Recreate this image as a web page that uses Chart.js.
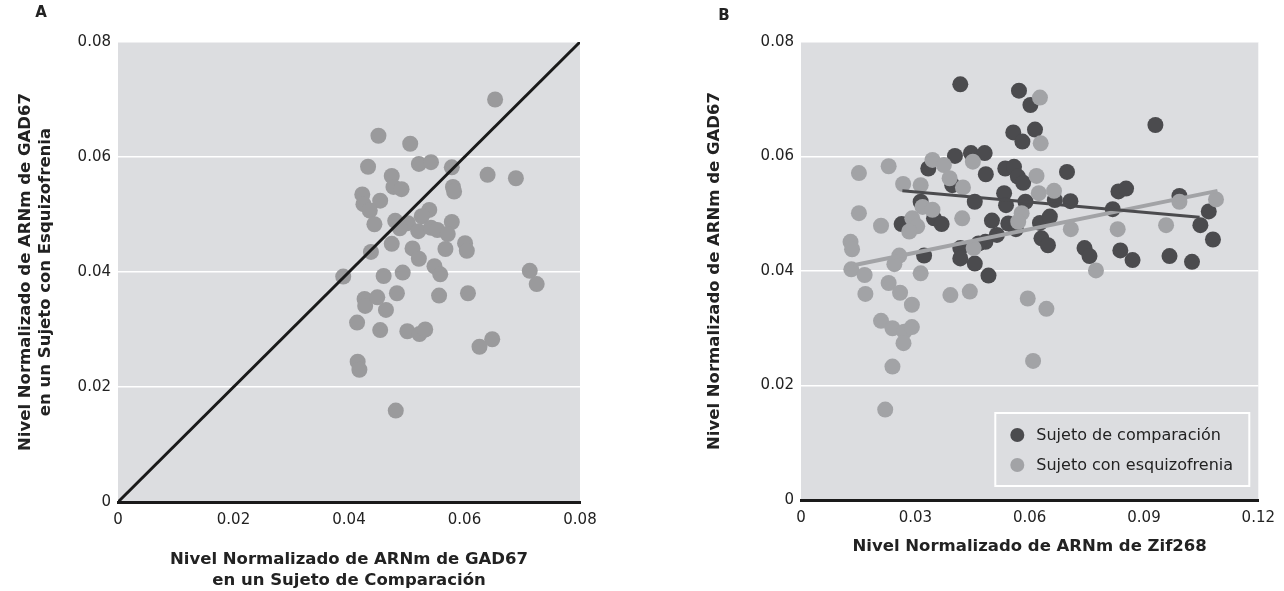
<!DOCTYPE html>
<html>
<head>
<meta charset="utf-8">
<script src="https://cdn.jsdelivr.net/npm/chart.js"></script>
<style>
  html, body { margin: 0; padding: 0; background: #fff; }
  #wrap { position: relative; width: 1284px; height: 591px; }
  canvas { position: absolute; top: 0; }
  #chartA { left: 0; width: 660px; height: 591px; }
  #chartB { left: 660px; width: 624px; height: 591px; }
</style>
</head>
<body>
<div id="wrap">
  <canvas id="chartA" width="660" height="591"></canvas>
  <canvas id="chartB" width="624" height="591"></canvas>
</div>
<script>
// panel A: GAD67 comparison subject (x) vs schizophrenia subject (y)
const aComparison = [0.0653,0.0451,0.0506,0.0433,0.0521,0.0542,0.0578,0.0474,0.0640,0.0689,
  0.0477,0.0491,0.0580,0.0582,0.0423,0.0425,0.0454,0.0436,0.0539,0.0526,
  0.0480,0.0502,0.0578,0.0444,0.0488,0.0520,0.0542,0.0553,0.0571,0.0474,
  0.0601,0.0604,0.0438,0.0510,0.0567,0.0521,0.0548,0.0558,0.0493,0.0390,
  0.0460,0.0713,0.0725,0.0483,0.0556,0.0606,0.0427,0.0428,0.0449,0.0464,
  0.0414,0.0454,0.0501,0.0522,0.0532,0.0626,0.0648,0.0415,0.0418,0.0481];
const aSchizo = [0.0700,0.0637,0.0623,0.0583,0.0588,0.0591,0.0582,0.0567,0.0569,0.0563,
  0.0548,0.0544,0.0548,0.0540,0.0535,0.0518,0.0524,0.0507,0.0508,0.0497,
  0.0489,0.0485,0.0487,0.0483,0.0476,0.0471,0.0477,0.0473,0.0466,0.0449,
  0.0450,0.0437,0.0435,0.0441,0.0440,0.0423,0.0410,0.0396,0.0399,0.0392,
  0.0393,0.0402,0.0379,0.0363,0.0359,0.0363,0.0353,0.0341,0.0356,0.0334,
  0.0312,0.0299,0.0297,0.0292,0.0300,0.0270,0.0283,0.0244,0.0230,0.0159];
const identityLine = [0, 0.08];

// panel B: Zif268 (x) vs GAD67 (y)
const bCompZif = [0.0418,0.0572,0.0602,0.0557,0.0581,0.0614,0.0930,0.0404,0.0446,0.0482,
  0.0334,0.0485,0.0536,0.0559,0.0569,0.0583,0.0698,0.0397,0.0314,0.0456,
  0.0533,0.0538,0.0589,0.0666,0.0707,0.0833,0.0853,0.0818,0.0993,0.1070,
  0.1048,0.1081,0.0264,0.0349,0.0369,0.0501,0.0544,0.0564,0.0627,0.0653,
  0.0631,0.0648,0.0514,0.0484,0.0466,0.0418,0.0418,0.0456,0.0323,0.0744,
  0.0757,0.0838,0.0870,0.0967,0.1026,0.0492];
const bCompGad = [0.0726,0.0715,0.0690,0.0642,0.0626,0.0647,0.0655,0.0601,0.0606,0.0606,
  0.0579,0.0569,0.0579,0.0582,0.0565,0.0554,0.0573,0.0550,0.0521,0.0521,
  0.0536,0.0515,0.0521,0.0524,0.0522,0.0539,0.0544,0.0508,0.0531,0.0504,
  0.0480,0.0455,0.0482,0.0492,0.0482,0.0488,0.0483,0.0473,0.0484,0.0495,
  0.0457,0.0445,0.0463,0.0451,0.0448,0.0440,0.0422,0.0413,0.0427,0.0440,
  0.0426,0.0436,0.0419,0.0426,0.0416,0.0392];
const bSchizoZif = [0.0627,0.0629,0.0152,0.0230,0.0345,0.0375,0.0390,0.0451,0.0618,0.0268,
  0.0314,0.0425,0.0624,0.0664,0.0152,0.0319,0.0345,0.0292,0.0423,0.0579,
  0.0570,0.0210,0.0305,0.0284,0.0708,0.0831,0.0958,0.0993,0.1089,0.0130,
  0.0134,0.0258,0.0453,0.0245,0.0132,0.0167,0.0314,0.0774,0.0169,0.0230,
  0.0260,0.0291,0.0392,0.0443,0.0595,0.0644,0.0210,0.0240,0.0271,0.0291,
  0.0269,0.0240,0.0609,0.0221];
const bSchizoGad = [0.0703,0.0623,0.0571,0.0583,0.0594,0.0585,0.0562,0.0591,0.0566,0.0552,
  0.0550,0.0546,0.0536,0.0540,0.0501,0.0512,0.0507,0.0492,0.0492,0.0501,
  0.0486,0.0479,0.0478,0.0469,0.0473,0.0473,0.0480,0.0521,0.0525,0.0451,
  0.0438,0.0427,0.0440,0.0412,0.0403,0.0393,0.0396,0.0401,0.0360,0.0379,
  0.0362,0.0341,0.0358,0.0364,0.0352,0.0334,0.0313,0.0300,0.0294,0.0302,
  0.0274,0.0233,0.0243,0.0158];
const bCompTrendX = [0.0266, 0.1046];
const bCompTrendY = [0.0540, 0.0494];
const bSchizoTrendX = [0.0138, 0.1093];
const bSchizoTrendY = [0.0410, 0.0540];

const aTicksY = [0, 0.02, 0.04, 0.06, 0.08];
const aTicksX = [0, 0.02, 0.04, 0.06, 0.08];
const bTicksY = [0, 0.02, 0.04, 0.06, 0.08];
const bTicksX = [0, 0.03, 0.06, 0.09, 0.12];

const FONT = 'DejaVu Sans';
const BG = '#dcdde0';
const DARK = '#4b4b4e';
const LIGHT = '#a2a3a6';

function pts(xs, ys) { return xs.map((x, i) => ({ x: x, y: ys[i] })); }
function fmt(v) { return v === 0 ? '0' : v.toFixed(2); }

const plotBg = {
  id: 'plotBg',
  beforeDraw(chart) {
    const { ctx, chartArea: a } = chart;
    ctx.save();
    ctx.fillStyle = BG;
    ctx.fillRect(a.left, a.top, a.right - a.left, a.bottom - a.top);
    ctx.restore();
  }
};

const panelLetter = {
  id: 'panelLetter',
  afterDraw(chart, args, opts) {
    const ctx = chart.ctx;
    ctx.save();
    ctx.font = 'bold 15px ' + FONT;
    ctx.fillStyle = '#222';
    ctx.textAlign = 'center';
    ctx.textBaseline = 'middle';
    ctx.fillText(opts.text, opts.x, opts.y);
    ctx.restore();
  }
};

const boxLegend = {
  id: 'boxLegend',
  afterDraw(chart, args, opts) {
    if (!opts.show) return;
    const { ctx, chartArea: a } = chart;
    const w = 254, h = 73;
    const x0 = a.right - 9 - w, y0 = a.bottom - 14 - h;
    ctx.save();
    ctx.strokeStyle = '#fff';
    ctx.lineWidth = 2;
    ctx.strokeRect(x0, y0, w, h);
    const items = chart.data.datasets.filter(d => d.label);
    ctx.font = '16px ' + FONT;
    ctx.textBaseline = 'middle';
    items.forEach((d, i) => {
      const cy = y0 + 22 + i * 30;
      ctx.fillStyle = d.backgroundColor;
      ctx.beginPath();
      ctx.arc(x0 + 22, cy, 7, 0, Math.PI * 2);
      ctx.fill();
      ctx.fillStyle = '#222';
      ctx.fillText(d.label, x0 + 41, cy + 1);
    });
    ctx.restore();
  }
};

function axes(xTicks, yTicks, yWidth, xHeight, xTitle, yTitle, xPad, yPad) {
  const titleFont = { family: FONT, size: 16.5, weight: 'bold', lineHeight: 1.25 };
  return {
    x: {
      type: 'linear', min: xTicks[0], max: xTicks[xTicks.length - 1],
      afterFit(s) { s.height = xHeight; },
      afterBuildTicks(s) { s.ticks = xTicks.map(v => ({ value: v })); },
      grid: { display: false, drawTicks: false },
      border: { display: true, color: '#1a1a1a', width: 3 },
      ticks: { padding: 9, color: '#222', font: { family: FONT, size: 15 }, callback: fmt, maxRotation: 0 },
      title: { display: true, text: xTitle, color: '#222', font: titleFont, padding: { top: 0, bottom: xPad } }
    },
    y: {
      type: 'linear', min: yTicks[0], max: yTicks[yTicks.length - 1],
      afterFit(s) { s.width = yWidth; },
      afterBuildTicks(s) { s.ticks = yTicks.map(v => ({ value: v })); },
      grid: { color: '#ffffff', lineWidth: 1.5, drawTicks: false },
      border: { display: false },
      ticks: { padding: 7, color: '#222', font: { family: FONT, size: 15 }, callback: fmt },
      title: { display: true, text: yTitle, color: '#222', font: titleFont, padding: { top: yPad, bottom: 0 } }
    }
  };
}

new Chart(document.getElementById('chartA').getContext('2d'), {
  type: 'scatter',
  data: {
    datasets: [
      { data: pts(identityLine, identityLine), showLine: true, borderColor: '#1a1a1a', borderWidth: 3, pointRadius: 0, order: 0 },
      { data: pts(aComparison, aSchizo), backgroundColor: '#9a9a9c', borderWidth: 0, pointRadius: 8, order: 1 }
    ]
  },
  options: {
    responsive: false, animation: false, devicePixelRatio: 1,
    layout: { padding: { top: 42, right: 80, bottom: 0, left: 0 } },
    plugins: { legend: { display: false }, tooltip: { enabled: false }, panelLetter: { text: 'A', x: 41, y: 13 }, boxLegend: { show: false } },
    scales: axes(aTicksX, aTicksY, 118, 89,
      ['Nivel Normalizado de ARNm de GAD67', 'en un Sujeto de Comparación'],
      ['Nivel Normalizado de ARNm de GAD67', 'en un Sujeto con Esquizofrenia'], 0, 15)
  },
  plugins: [plotBg, panelLetter, boxLegend]
});

new Chart(document.getElementById('chartB').getContext('2d'), {
  type: 'scatter',
  data: {
    datasets: [
      { data: pts(bCompTrendX, bCompTrendY), showLine: true, borderColor: DARK, borderWidth: 3, pointRadius: 0, order: 0 },
      { data: pts(bSchizoTrendX, bSchizoTrendY), showLine: true, borderColor: LIGHT, borderWidth: 4, pointRadius: 0, order: 0 },
      { label: 'Sujeto de comparación', data: pts(bCompZif, bCompGad), backgroundColor: DARK, borderWidth: 0, pointRadius: 8, order: 2 },
      { label: 'Sujeto con esquizofrenia', data: pts(bSchizoZif, bSchizoGad), backgroundColor: LIGHT, borderWidth: 0, pointRadius: 8, order: 1 }
    ]
  },
  options: {
    responsive: false, animation: false, devicePixelRatio: 1,
    layout: { padding: { top: 42, right: 18, bottom: 0, left: 0 } },
    plugins: { legend: { display: false }, tooltip: { enabled: false }, panelLetter: { text: 'B', x: 64, y: 16 }, boxLegend: { show: true } },
    scales: axes(bTicksX, bTicksY, 141, 91,
      'Nivel Normalizado de ARNm de Zif268',
      'Nivel Normalizado de ARNm de GAD67', 34, 44)
  },
  plugins: [plotBg, panelLetter, boxLegend]
});
</script>
</body>
</html>
